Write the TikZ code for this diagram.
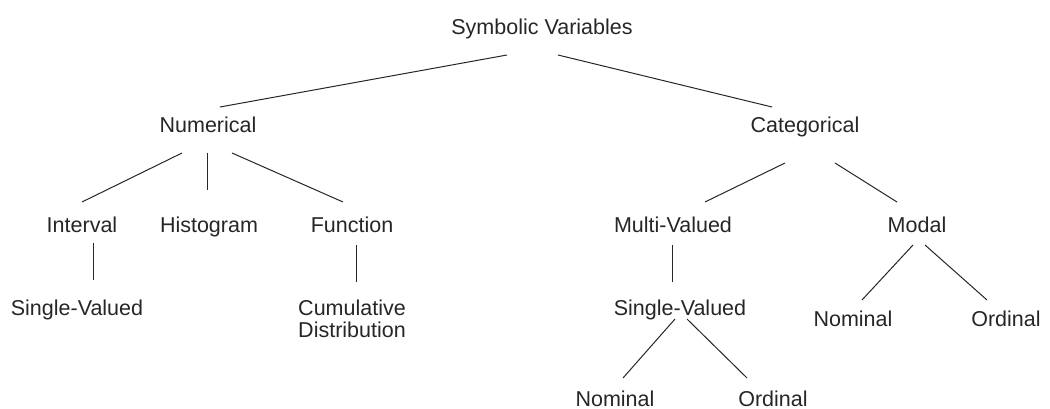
\documentclass[tikz,border=0pt]{standalone}
\usepackage{fontspec}
\setmainfont{Liberation Sans}
\usetikzlibrary{calc}
\begin{document}
\begin{tikzpicture}[x=1pt,y=-1pt,
  lbl/.style={anchor=base,inner sep=0pt,font=\fontsize{21.5}{24}\selectfont,text=black!85},
  conn/.style={line width=1pt,draw=black!85}]
\useasboundingbox (0,0) rectangle (1050,409);
\node[lbl] (sv) at (542,35) {Symbolic Variables};
\node[lbl] (num) at (208,133) {Numerical};
\node[lbl] (cat) at (805,133) {Categorical};
\node[lbl] (int) at (82,232) {Interval};
\node[lbl] (hist) at (209,232) {Histogram};
\node[lbl] (fun) at (352,232) {Function};
\node[lbl] (mv) at (673,232) {Multi-Valued};
\node[lbl] (modal) at (917,232) {Modal};
\node[lbl] (svone) at (77,315) {Single-Valued};
\node[lbl] (cdone) at (352,315) {Cumulative};
\node[lbl] (cdtwo) at (352,337) {Distribution};
\node[lbl] (svtwo) at (680,315) {Single-Valued};
\node[lbl] (nomone) at (853,326) {Nominal};
\node[lbl] (ordone) at (1006,326) {Ordinal};
\node[lbl] (nomtwo) at (615,406) {Nominal};
\node[lbl] (ordtwo) at (773,406) {Ordinal};

\draw[conn] ($(sv.base)+(-35,20)$) -- ($(num.base)+(12,-26)$);
\draw[conn] ($(sv.base)+(16,20)$) -- ($(cat.base)+(-33,-26)$);
\draw[conn] ($(num.base)+(-26,20)$) -- ($(int.base)+(0,-30)$);
\draw[conn] ($(num.base)+(-1,20)$) -- ($(hist.base)+(-2,-42)$);
\draw[conn] ($(num.base)+(24,20)$) -- ($(fun.base)+(-9,-30)$);
\draw[conn] ($(cat.base)+(-20,30)$) -- ($(mv.base)+(32,-30)$);
\draw[conn] ($(cat.base)+(30,30)$) -- ($(modal.base)+(-20,-30)$);
\draw[conn] ($(int.base)+(11,11)$) -- ($(svone.base)+(16,-35)$);
\draw[conn] ($(fun.base)+(4,13)$) -- ($(cdone.base)+(4,-33)$);
\draw[conn] ($(mv.base)+(-1,13)$) -- ($(svtwo.base)+(-8,-33)$);
\draw[conn] ($(modal.base)+(-4,13)$) -- ($(nomone.base)+(9,-26)$);
\draw[conn] ($(modal.base)+(8,13)$) -- ($(ordone.base)+(-19,-26)$);
\draw[conn] ($(svtwo.base)+(-5,4)$) -- ($(nomtwo.base)+(8,-28)$);
\draw[conn] ($(svtwo.base)+(7,4)$) -- ($(ordtwo.base)+(-26,-28)$);
\end{tikzpicture}
\end{document}
